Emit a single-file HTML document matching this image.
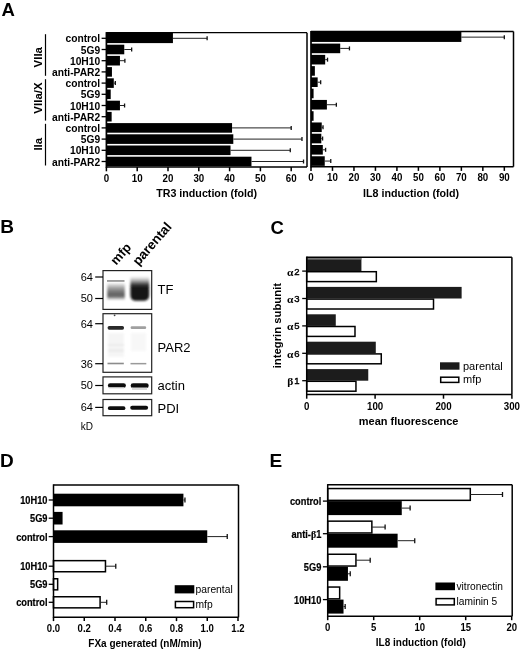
<!DOCTYPE html>
<html><head><meta charset="utf-8"><style>
html,body{margin:0;padding:0;background:#fff;}
body{width:520px;height:649px;overflow:hidden;}
svg{display:block;will-change:transform;}
</style></head><body>
<svg width="520" height="649" viewBox="0 0 520 649">
<rect width="520" height="649" fill="#fff"/>
<text x="1.50" y="16.20" font-family='"Liberation Sans", sans-serif' font-size="18.5" font-weight="bold" text-anchor="start" fill="#000" >A</text>
<text x="0.20" y="232.70" font-family='"Liberation Sans", sans-serif' font-size="19" font-weight="bold" text-anchor="start" fill="#000" >B</text>
<text x="270.50" y="234.20" font-family='"Liberation Sans", sans-serif' font-size="18.5" font-weight="bold" text-anchor="start" fill="#000" >C</text>
<text x="0.00" y="466.50" font-family='"Liberation Sans", sans-serif' font-size="19" font-weight="bold" text-anchor="start" fill="#000" >D</text>
<text x="269.50" y="467.30" font-family='"Liberation Sans", sans-serif' font-size="19" font-weight="bold" text-anchor="start" fill="#000" >E</text>
<rect x="106.40" y="32.70" width="66.53" height="10.40" fill="#000"/>
<line x1="172.93" y1="38.30" x2="207.12" y2="38.30" stroke="#222" stroke-width="1.0"/>
<line x1="207.12" y1="36.30" x2="207.12" y2="40.30" stroke="#111" stroke-width="1.3"/>
<line x1="101.60" y1="38.30" x2="106.40" y2="38.30" stroke="#000" stroke-width="1.3"/>
<text x="100.20" y="42.30" font-family='"Liberation Sans", sans-serif' font-size="10.25" font-weight="bold" text-anchor="end" fill="#000" >control</text>
<rect x="106.40" y="44.70" width="17.86" height="9.60" fill="#000"/>
<line x1="124.26" y1="49.50" x2="131.66" y2="49.50" stroke="#222" stroke-width="1.0"/>
<line x1="131.66" y1="47.50" x2="131.66" y2="51.50" stroke="#111" stroke-width="1.3"/>
<line x1="101.60" y1="49.50" x2="106.40" y2="49.50" stroke="#000" stroke-width="1.3"/>
<text x="100.20" y="53.50" font-family='"Liberation Sans", sans-serif' font-size="10.25" font-weight="bold" text-anchor="end" fill="#000" >5G9</text>
<rect x="106.40" y="55.90" width="13.55" height="9.60" fill="#000"/>
<line x1="119.95" y1="60.70" x2="124.88" y2="60.70" stroke="#222" stroke-width="1.0"/>
<line x1="124.88" y1="58.70" x2="124.88" y2="62.70" stroke="#111" stroke-width="1.3"/>
<line x1="101.60" y1="60.70" x2="106.40" y2="60.70" stroke="#000" stroke-width="1.3"/>
<text x="100.20" y="64.70" font-family='"Liberation Sans", sans-serif' font-size="10.25" font-weight="bold" text-anchor="end" fill="#000" >10H10</text>
<rect x="106.40" y="67.10" width="5.54" height="9.60" fill="#000"/>
<line x1="101.60" y1="71.90" x2="106.40" y2="71.90" stroke="#000" stroke-width="1.3"/>
<text x="100.20" y="75.90" font-family='"Liberation Sans", sans-serif' font-size="10.25" font-weight="bold" text-anchor="end" fill="#000" >anti-PAR2</text>
<rect x="106.40" y="78.30" width="7.39" height="9.60" fill="#000"/>
<line x1="113.79" y1="83.10" x2="115.33" y2="83.10" stroke="#222" stroke-width="1.0"/>
<line x1="115.33" y1="81.10" x2="115.33" y2="85.10" stroke="#111" stroke-width="1.3"/>
<line x1="101.60" y1="83.10" x2="106.40" y2="83.10" stroke="#000" stroke-width="1.3"/>
<text x="100.20" y="87.10" font-family='"Liberation Sans", sans-serif' font-size="10.25" font-weight="bold" text-anchor="end" fill="#000" >control</text>
<rect x="106.40" y="89.50" width="4.31" height="9.60" fill="#000"/>
<line x1="101.60" y1="94.30" x2="106.40" y2="94.30" stroke="#000" stroke-width="1.3"/>
<text x="100.20" y="98.30" font-family='"Liberation Sans", sans-serif' font-size="10.25" font-weight="bold" text-anchor="end" fill="#000" >5G9</text>
<rect x="106.40" y="100.70" width="13.55" height="9.60" fill="#000"/>
<line x1="119.95" y1="105.50" x2="124.57" y2="105.50" stroke="#222" stroke-width="1.0"/>
<line x1="124.57" y1="103.50" x2="124.57" y2="107.50" stroke="#111" stroke-width="1.3"/>
<line x1="101.60" y1="105.50" x2="106.40" y2="105.50" stroke="#000" stroke-width="1.3"/>
<text x="100.20" y="109.50" font-family='"Liberation Sans", sans-serif' font-size="10.25" font-weight="bold" text-anchor="end" fill="#000" >10H10</text>
<rect x="106.40" y="111.90" width="5.24" height="9.60" fill="#000"/>
<line x1="101.60" y1="116.70" x2="106.40" y2="116.70" stroke="#000" stroke-width="1.3"/>
<text x="100.20" y="120.70" font-family='"Liberation Sans", sans-serif' font-size="10.25" font-weight="bold" text-anchor="end" fill="#000" >anti-PAR2</text>
<rect x="106.40" y="123.10" width="125.66" height="9.60" fill="#000"/>
<line x1="232.06" y1="127.90" x2="291.20" y2="127.90" stroke="#222" stroke-width="1.0"/>
<line x1="291.20" y1="125.90" x2="291.20" y2="129.90" stroke="#111" stroke-width="1.3"/>
<line x1="101.60" y1="127.90" x2="106.40" y2="127.90" stroke="#000" stroke-width="1.3"/>
<text x="100.20" y="131.90" font-family='"Liberation Sans", sans-serif' font-size="10.25" font-weight="bold" text-anchor="end" fill="#000" >control</text>
<rect x="106.40" y="134.30" width="126.90" height="9.60" fill="#000"/>
<line x1="233.30" y1="139.10" x2="301.98" y2="139.10" stroke="#222" stroke-width="1.0"/>
<line x1="301.98" y1="137.10" x2="301.98" y2="141.10" stroke="#111" stroke-width="1.3"/>
<line x1="101.60" y1="139.10" x2="106.40" y2="139.10" stroke="#000" stroke-width="1.3"/>
<text x="100.20" y="143.10" font-family='"Liberation Sans", sans-serif' font-size="10.25" font-weight="bold" text-anchor="end" fill="#000" >5G9</text>
<rect x="106.40" y="145.50" width="124.12" height="9.60" fill="#000"/>
<line x1="230.52" y1="150.30" x2="290.28" y2="150.30" stroke="#222" stroke-width="1.0"/>
<line x1="290.28" y1="148.30" x2="290.28" y2="152.30" stroke="#111" stroke-width="1.3"/>
<line x1="101.60" y1="150.30" x2="106.40" y2="150.30" stroke="#000" stroke-width="1.3"/>
<text x="100.20" y="154.30" font-family='"Liberation Sans", sans-serif' font-size="10.25" font-weight="bold" text-anchor="end" fill="#000" >10H10</text>
<rect x="106.40" y="156.70" width="145.07" height="9.60" fill="#000"/>
<line x1="251.47" y1="161.50" x2="303.52" y2="161.50" stroke="#222" stroke-width="1.0"/>
<line x1="303.52" y1="159.50" x2="303.52" y2="163.50" stroke="#111" stroke-width="1.3"/>
<line x1="101.60" y1="161.50" x2="106.40" y2="161.50" stroke="#000" stroke-width="1.3"/>
<text x="100.20" y="165.50" font-family='"Liberation Sans", sans-serif' font-size="10.25" font-weight="bold" text-anchor="end" fill="#000" >anti-PAR2</text>
<line x1="106.40" y1="32.70" x2="307.00" y2="32.70" stroke="#000" stroke-width="1.3"/>
<line x1="307.00" y1="32.70" x2="307.00" y2="167.10" stroke="#000" stroke-width="1.5"/>
<line x1="106.40" y1="167.10" x2="307.00" y2="167.10" stroke="#000" stroke-width="1.5"/>
<line x1="106.40" y1="32.10" x2="106.40" y2="167.80" stroke="#000" stroke-width="1.7"/>
<line x1="106.40" y1="167.10" x2="106.40" y2="171.30" stroke="#000" stroke-width="1.5"/>
<text transform="translate(106.40 181.60) scale(0.92 1)" font-family='"Liberation Sans", sans-serif' font-size="10.6" font-weight="bold" text-anchor="middle" fill="#000" >0</text>
<line x1="137.20" y1="167.10" x2="137.20" y2="171.30" stroke="#000" stroke-width="1.5"/>
<text transform="translate(137.20 181.60) scale(0.92 1)" font-family='"Liberation Sans", sans-serif' font-size="10.6" font-weight="bold" text-anchor="middle" fill="#000" >10</text>
<line x1="168.00" y1="167.10" x2="168.00" y2="171.30" stroke="#000" stroke-width="1.5"/>
<text transform="translate(168.00 181.60) scale(0.92 1)" font-family='"Liberation Sans", sans-serif' font-size="10.6" font-weight="bold" text-anchor="middle" fill="#000" >20</text>
<line x1="198.80" y1="167.10" x2="198.80" y2="171.30" stroke="#000" stroke-width="1.5"/>
<text transform="translate(198.80 181.60) scale(0.92 1)" font-family='"Liberation Sans", sans-serif' font-size="10.6" font-weight="bold" text-anchor="middle" fill="#000" >30</text>
<line x1="229.60" y1="167.10" x2="229.60" y2="171.30" stroke="#000" stroke-width="1.5"/>
<text transform="translate(229.60 181.60) scale(0.92 1)" font-family='"Liberation Sans", sans-serif' font-size="10.6" font-weight="bold" text-anchor="middle" fill="#000" >40</text>
<line x1="260.40" y1="167.10" x2="260.40" y2="171.30" stroke="#000" stroke-width="1.5"/>
<text transform="translate(260.40 181.60) scale(0.92 1)" font-family='"Liberation Sans", sans-serif' font-size="10.6" font-weight="bold" text-anchor="middle" fill="#000" >50</text>
<line x1="291.20" y1="167.10" x2="291.20" y2="171.30" stroke="#000" stroke-width="1.5"/>
<text transform="translate(291.20 181.60) scale(0.92 1)" font-family='"Liberation Sans", sans-serif' font-size="10.6" font-weight="bold" text-anchor="middle" fill="#000" >60</text>
<text x="156.20" y="196.80" font-family='"Liberation Sans", sans-serif' font-size="10.7" font-weight="bold" text-anchor="start" fill="#000" >TR3 induction (fold)</text>
<rect x="311.00" y="31.50" width="150.36" height="10.43" fill="#000"/>
<line x1="461.36" y1="37.13" x2="504.32" y2="37.13" stroke="#222" stroke-width="1.0"/>
<line x1="504.32" y1="35.13" x2="504.32" y2="39.13" stroke="#111" stroke-width="1.3"/>
<rect x="311.00" y="43.60" width="29.21" height="9.60" fill="#000"/>
<line x1="340.21" y1="48.40" x2="349.45" y2="48.40" stroke="#222" stroke-width="1.0"/>
<line x1="349.45" y1="46.40" x2="349.45" y2="50.40" stroke="#111" stroke-width="1.3"/>
<rect x="311.00" y="54.87" width="14.18" height="9.60" fill="#000"/>
<line x1="325.18" y1="59.67" x2="327.54" y2="59.67" stroke="#222" stroke-width="1.0"/>
<line x1="327.54" y1="57.67" x2="327.54" y2="61.67" stroke="#111" stroke-width="1.3"/>
<rect x="311.00" y="66.13" width="3.87" height="9.60" fill="#000"/>
<rect x="311.00" y="77.40" width="6.66" height="9.60" fill="#000"/>
<line x1="317.66" y1="82.20" x2="320.67" y2="82.20" stroke="#222" stroke-width="1.0"/>
<line x1="320.67" y1="80.20" x2="320.67" y2="84.20" stroke="#111" stroke-width="1.3"/>
<rect x="311.00" y="88.67" width="2.58" height="9.60" fill="#000"/>
<rect x="311.00" y="99.93" width="15.90" height="9.60" fill="#000"/>
<line x1="326.90" y1="104.73" x2="336.35" y2="104.73" stroke="#222" stroke-width="1.0"/>
<line x1="336.35" y1="102.73" x2="336.35" y2="106.73" stroke="#111" stroke-width="1.3"/>
<rect x="311.00" y="111.20" width="2.58" height="9.60" fill="#000"/>
<rect x="311.00" y="122.47" width="10.74" height="9.60" fill="#000"/>
<line x1="321.74" y1="127.27" x2="323.03" y2="127.27" stroke="#222" stroke-width="1.0"/>
<line x1="323.03" y1="125.27" x2="323.03" y2="129.27" stroke="#111" stroke-width="1.3"/>
<rect x="311.00" y="133.73" width="10.31" height="9.60" fill="#000"/>
<line x1="321.31" y1="138.53" x2="322.60" y2="138.53" stroke="#222" stroke-width="1.0"/>
<line x1="322.60" y1="136.53" x2="322.60" y2="140.53" stroke="#111" stroke-width="1.3"/>
<rect x="311.00" y="145.00" width="11.81" height="9.60" fill="#000"/>
<line x1="322.81" y1="149.80" x2="325.61" y2="149.80" stroke="#222" stroke-width="1.0"/>
<line x1="325.61" y1="147.80" x2="325.61" y2="151.80" stroke="#111" stroke-width="1.3"/>
<rect x="311.00" y="156.27" width="13.75" height="9.60" fill="#000"/>
<line x1="324.75" y1="161.07" x2="330.76" y2="161.07" stroke="#222" stroke-width="1.0"/>
<line x1="330.76" y1="159.07" x2="330.76" y2="163.07" stroke="#111" stroke-width="1.3"/>
<line x1="311.00" y1="31.50" x2="513.50" y2="31.50" stroke="#000" stroke-width="1.3"/>
<line x1="513.50" y1="31.50" x2="513.50" y2="166.70" stroke="#000" stroke-width="1.5"/>
<line x1="311.00" y1="166.70" x2="513.50" y2="166.70" stroke="#000" stroke-width="1.5"/>
<line x1="311.00" y1="30.90" x2="311.00" y2="167.40" stroke="#000" stroke-width="1.7"/>
<line x1="311.00" y1="166.70" x2="311.00" y2="170.90" stroke="#000" stroke-width="1.5"/>
<text transform="translate(311.00 181.20) scale(0.92 1)" font-family='"Liberation Sans", sans-serif' font-size="10.6" font-weight="bold" text-anchor="middle" fill="#000" >0</text>
<line x1="332.48" y1="166.70" x2="332.48" y2="170.90" stroke="#000" stroke-width="1.5"/>
<text transform="translate(332.48 181.20) scale(0.92 1)" font-family='"Liberation Sans", sans-serif' font-size="10.6" font-weight="bold" text-anchor="middle" fill="#000" >10</text>
<line x1="353.96" y1="166.70" x2="353.96" y2="170.90" stroke="#000" stroke-width="1.5"/>
<text transform="translate(353.96 181.20) scale(0.92 1)" font-family='"Liberation Sans", sans-serif' font-size="10.6" font-weight="bold" text-anchor="middle" fill="#000" >20</text>
<line x1="375.44" y1="166.70" x2="375.44" y2="170.90" stroke="#000" stroke-width="1.5"/>
<text transform="translate(375.44 181.20) scale(0.92 1)" font-family='"Liberation Sans", sans-serif' font-size="10.6" font-weight="bold" text-anchor="middle" fill="#000" >30</text>
<line x1="396.92" y1="166.70" x2="396.92" y2="170.90" stroke="#000" stroke-width="1.5"/>
<text transform="translate(396.92 181.20) scale(0.92 1)" font-family='"Liberation Sans", sans-serif' font-size="10.6" font-weight="bold" text-anchor="middle" fill="#000" >40</text>
<line x1="418.40" y1="166.70" x2="418.40" y2="170.90" stroke="#000" stroke-width="1.5"/>
<text transform="translate(418.40 181.20) scale(0.92 1)" font-family='"Liberation Sans", sans-serif' font-size="10.6" font-weight="bold" text-anchor="middle" fill="#000" >50</text>
<line x1="439.88" y1="166.70" x2="439.88" y2="170.90" stroke="#000" stroke-width="1.5"/>
<text transform="translate(439.88 181.20) scale(0.92 1)" font-family='"Liberation Sans", sans-serif' font-size="10.6" font-weight="bold" text-anchor="middle" fill="#000" >60</text>
<line x1="461.36" y1="166.70" x2="461.36" y2="170.90" stroke="#000" stroke-width="1.5"/>
<text transform="translate(461.36 181.20) scale(0.92 1)" font-family='"Liberation Sans", sans-serif' font-size="10.6" font-weight="bold" text-anchor="middle" fill="#000" >70</text>
<line x1="482.84" y1="166.70" x2="482.84" y2="170.90" stroke="#000" stroke-width="1.5"/>
<text transform="translate(482.84 181.20) scale(0.92 1)" font-family='"Liberation Sans", sans-serif' font-size="10.6" font-weight="bold" text-anchor="middle" fill="#000" >80</text>
<line x1="504.32" y1="166.70" x2="504.32" y2="170.90" stroke="#000" stroke-width="1.5"/>
<text transform="translate(504.32 181.20) scale(0.92 1)" font-family='"Liberation Sans", sans-serif' font-size="10.6" font-weight="bold" text-anchor="middle" fill="#000" >90</text>
<text x="363.00" y="196.60" font-family='"Liberation Sans", sans-serif' font-size="10.7" font-weight="bold" text-anchor="start" fill="#000" >IL8 induction (fold)</text>
<line x1="45.50" y1="34.20" x2="45.50" y2="75.80" stroke="#000" stroke-width="1.2"/>
<line x1="45.50" y1="79.20" x2="45.50" y2="120.60" stroke="#000" stroke-width="1.2"/>
<line x1="45.50" y1="123.80" x2="45.50" y2="165.50" stroke="#000" stroke-width="1.2"/>
<text x="42.20" y="57.20" font-family='"Liberation Sans", sans-serif' font-size="11.5" font-weight="bold" text-anchor="middle" fill="#000" transform="rotate(-90 42.2 57.2)">VIIa</text>
<text x="42.20" y="98.00" font-family='"Liberation Sans", sans-serif' font-size="11.5" font-weight="bold" text-anchor="middle" fill="#000" transform="rotate(-90 42.2 98)">VIIa/X</text>
<text x="42.20" y="144.20" font-family='"Liberation Sans", sans-serif' font-size="11.5" font-weight="bold" text-anchor="middle" fill="#000" transform="rotate(-90 42.2 144.2)">IIa</text>
<defs><filter id="bl1" x="-50%" y="-50%" width="200%" height="200%"><feGaussianBlur stdDeviation="1.2"/></filter><filter id="bl2" x="-50%" y="-50%" width="200%" height="200%"><feGaussianBlur stdDeviation="2.2"/></filter><filter id="bl08" x="-50%" y="-50%" width="200%" height="200%"><feGaussianBlur stdDeviation="0.9"/></filter><filter id="bl05" x="-50%" y="-50%" width="200%" height="200%"><feGaussianBlur stdDeviation="0.7"/></filter></defs>
<defs><linearGradient id="gm" x1="0" y1="0" x2="0" y2="1"><stop offset="0" stop-color="#f4f4f4"/><stop offset="0.13" stop-color="#cdcdcd"/><stop offset="0.3" stop-color="#a0a0a0"/><stop offset="0.48" stop-color="#7c7c7c"/><stop offset="0.66" stop-color="#626262"/><stop offset="0.8" stop-color="#6c6c6c"/><stop offset="0.9" stop-color="#aaaaaa"/><stop offset="1" stop-color="#f4f4f4"/></linearGradient><linearGradient id="gp" x1="0" y1="0" x2="0" y2="1"><stop offset="0" stop-color="#f8f8f8"/><stop offset="0.1" stop-color="#d4d4d4"/><stop offset="0.22" stop-color="#8a8a8a"/><stop offset="0.34" stop-color="#333"/><stop offset="0.46" stop-color="#1a1a1a"/><stop offset="1" stop-color="#151515"/></linearGradient></defs>
<g filter="url(#bl08)"><rect x="107.2" y="283" width="17.6" height="17" fill="url(#gm)"/></g><g filter="url(#bl05)"><rect x="107" y="280.2" width="17.5" height="1.5" fill="#858585"/></g>
<g filter="url(#bl08)"><path d="M130.4,276.5 H149.2 V295 Q149.2,300.8 143.5,300.8 H136 Q130.4,300.8 130.4,295 Z" fill="url(#gp)"/></g>
<g filter="url(#bl05)"><rect x="107.6" y="325.9" width="16.4" height="3.8" rx="1.6" fill="#2a2a2a"/><rect x="130.6" y="326.3" width="15.6" height="2.8" rx="1.3" fill="#a0a0a0"/><rect x="107.5" y="362.7" width="16.3" height="1.6" fill="#8c8c8c"/><rect x="130.5" y="362.9" width="15.8" height="1.5" fill="#9a9a9a"/><circle cx="114.6" cy="315.3" r="0.9" fill="#444"/></g>
<g filter="url(#bl1)" opacity="0.6"><rect x="108" y="333" width="16" height="24" fill="#f0f0f0"/><rect x="108" y="344" width="16" height="2" fill="#dcdcdc"/><rect x="108" y="349.5" width="16" height="2" fill="#d8d8d8"/><rect x="131" y="333" width="15" height="18" fill="#f2f2f2"/></g>
<g filter="url(#bl05)"><rect x="107.9" y="383.3" width="18" height="4.4" rx="2.2" fill="#111"/><rect x="130.7" y="383.3" width="18" height="4.7" rx="2.3" fill="#111"/><rect x="132" y="387.5" width="15" height="2.5" fill="#dadada"/><rect x="109" y="387.3" width="15" height="1.5" fill="#e8e8e8"/></g>
<g filter="url(#bl05)"><rect x="107.9" y="406.2" width="17.5" height="3.9" rx="1.9" fill="#111"/><rect x="130.2" y="405.7" width="17.9" height="4.1" rx="2" fill="#111"/></g>
<rect x="103" y="270.6" width="48.70" height="38.80" fill="none" stroke="#222" stroke-width="1.2"/>
<rect x="103" y="313.7" width="48.70" height="58.60" fill="none" stroke="#222" stroke-width="1.2"/>
<rect x="103" y="376.9" width="48.70" height="16.90" fill="none" stroke="#222" stroke-width="1.2"/>
<rect x="103" y="399.5" width="48.70" height="16.20" fill="none" stroke="#222" stroke-width="1.2"/>
<line x1="95.20" y1="277.00" x2="103.00" y2="277.00" stroke="#000" stroke-width="1.2"/>
<text x="93.00" y="280.90" font-family='"Liberation Sans", sans-serif' font-size="11" font-weight="normal" text-anchor="end" fill="#000" >64</text>
<line x1="95.20" y1="298.50" x2="103.00" y2="298.50" stroke="#000" stroke-width="1.2"/>
<text x="93.00" y="302.40" font-family='"Liberation Sans", sans-serif' font-size="11" font-weight="normal" text-anchor="end" fill="#000" >50</text>
<line x1="95.20" y1="323.70" x2="103.00" y2="323.70" stroke="#000" stroke-width="1.2"/>
<text x="93.00" y="327.60" font-family='"Liberation Sans", sans-serif' font-size="11" font-weight="normal" text-anchor="end" fill="#000" >64</text>
<line x1="95.20" y1="363.70" x2="103.00" y2="363.70" stroke="#000" stroke-width="1.2"/>
<text x="93.00" y="367.60" font-family='"Liberation Sans", sans-serif' font-size="11" font-weight="normal" text-anchor="end" fill="#000" >36</text>
<line x1="95.20" y1="385.50" x2="103.00" y2="385.50" stroke="#000" stroke-width="1.2"/>
<text x="93.00" y="389.40" font-family='"Liberation Sans", sans-serif' font-size="11" font-weight="normal" text-anchor="end" fill="#000" >50</text>
<line x1="95.20" y1="407.40" x2="103.00" y2="407.40" stroke="#000" stroke-width="1.2"/>
<text x="93.00" y="411.30" font-family='"Liberation Sans", sans-serif' font-size="11" font-weight="normal" text-anchor="end" fill="#000" >64</text>
<text x="80.80" y="429.50" font-family='"Liberation Sans", sans-serif' font-size="10" font-weight="normal" text-anchor="start" fill="#000" >kD</text>
<text x="157.50" y="293.80" font-family='"Liberation Sans", sans-serif' font-size="13" font-weight="normal" text-anchor="start" fill="#000" >TF</text>
<text x="157.50" y="351.80" font-family='"Liberation Sans", sans-serif' font-size="13" font-weight="normal" text-anchor="start" fill="#000" >PAR2</text>
<text x="157.50" y="390.00" font-family='"Liberation Sans", sans-serif' font-size="13" font-weight="normal" text-anchor="start" fill="#000" >actin</text>
<text x="157.50" y="413.20" font-family='"Liberation Sans", sans-serif' font-size="13" font-weight="normal" text-anchor="start" fill="#000" >PDI</text>
<text x="116.30" y="265.80" font-family='"Liberation Sans", sans-serif' font-size="13" font-weight="bold" text-anchor="start" fill="#000" transform="rotate(-49 116.3 265.8)">mfp</text>
<text x="138.40" y="266.30" font-family='"Liberation Sans", sans-serif' font-size="13.3" font-weight="bold" text-anchor="start" fill="#000" transform="rotate(-49 138.4 266.3)">parental</text>
<rect x="306.70" y="257.80" width="54.72" height="13.30" fill="#1c1c1c"/>
<rect x="306.70" y="271.70" width="69.63" height="9.90" fill="#fff" stroke="#000" stroke-width="1.5"/>
<line x1="302.20" y1="271.10" x2="306.70" y2="271.10" stroke="#000" stroke-width="1.3"/>
<text transform="translate(293.4 275.50) scale(1.15 1)" font-family='"Liberation Serif", serif' font-size="10" font-weight="bold" text-anchor="end" fill="#000">&#945;</text>
<text x="299.60" y="274.60" font-family='"Liberation Sans", sans-serif' font-size="9.5" font-weight="normal" text-anchor="end" fill="#000" stroke="#000" stroke-width="0.4">2</text>
<rect x="306.70" y="286.90" width="154.93" height="11.60" fill="#1c1c1c"/>
<rect x="306.70" y="299.10" width="126.81" height="9.90" fill="#fff" stroke="#000" stroke-width="1.5"/>
<line x1="302.20" y1="298.50" x2="306.70" y2="298.50" stroke="#000" stroke-width="1.3"/>
<text transform="translate(293.4 302.90) scale(1.15 1)" font-family='"Liberation Serif", serif' font-size="10" font-weight="bold" text-anchor="end" fill="#000">&#945;</text>
<text x="299.60" y="302.00" font-family='"Liberation Sans", sans-serif' font-size="9.5" font-weight="normal" text-anchor="end" fill="#000" stroke="#000" stroke-width="0.4">3</text>
<rect x="306.70" y="314.30" width="29.07" height="11.60" fill="#1c1c1c"/>
<rect x="306.70" y="326.50" width="48.29" height="9.90" fill="#fff" stroke="#000" stroke-width="1.5"/>
<line x1="302.20" y1="325.90" x2="306.70" y2="325.90" stroke="#000" stroke-width="1.3"/>
<text transform="translate(293.4 330.30) scale(1.15 1)" font-family='"Liberation Serif", serif' font-size="10" font-weight="bold" text-anchor="end" fill="#000">&#945;</text>
<text x="299.60" y="329.40" font-family='"Liberation Sans", sans-serif' font-size="9.5" font-weight="normal" text-anchor="end" fill="#000" stroke="#000" stroke-width="0.4">5</text>
<rect x="306.70" y="341.70" width="69.08" height="11.60" fill="#1c1c1c"/>
<rect x="306.70" y="353.90" width="74.56" height="9.90" fill="#fff" stroke="#000" stroke-width="1.5"/>
<line x1="302.20" y1="353.30" x2="306.70" y2="353.30" stroke="#000" stroke-width="1.3"/>
<text transform="translate(293.4 357.70) scale(1.15 1)" font-family='"Liberation Serif", serif' font-size="10" font-weight="bold" text-anchor="end" fill="#000">&#945;</text>
<text x="299.60" y="356.80" font-family='"Liberation Sans", sans-serif' font-size="9.5" font-weight="normal" text-anchor="end" fill="#000" stroke="#000" stroke-width="0.4">6</text>
<rect x="306.70" y="369.10" width="61.56" height="11.60" fill="#1c1c1c"/>
<rect x="306.70" y="381.30" width="49.25" height="9.90" fill="#fff" stroke="#000" stroke-width="1.5"/>
<line x1="302.20" y1="380.70" x2="306.70" y2="380.70" stroke="#000" stroke-width="1.3"/>
<text transform="translate(293.4 385.10) scale(1.15 1)" font-family='"Liberation Serif", serif' font-size="10" font-weight="bold" text-anchor="end" fill="#000">&#946;</text>
<text x="299.60" y="384.20" font-family='"Liberation Sans", sans-serif' font-size="9.5" font-weight="normal" text-anchor="end" fill="#000" stroke="#000" stroke-width="0.4">1</text>
<line x1="307.50" y1="258.90" x2="361.42" y2="258.90" stroke="#8e8e8e" stroke-width="1.2"/>
<line x1="306.70" y1="257.20" x2="511.90" y2="257.20" stroke="#000" stroke-width="1.5"/>
<line x1="511.90" y1="257.20" x2="511.90" y2="394.40" stroke="#000" stroke-width="1.5"/>
<line x1="306.70" y1="394.40" x2="511.90" y2="394.40" stroke="#000" stroke-width="1.5"/>
<line x1="306.70" y1="256.50" x2="306.70" y2="395.10" stroke="#000" stroke-width="1.5"/>
<line x1="306.70" y1="394.40" x2="306.70" y2="398.70" stroke="#000" stroke-width="1.5"/>
<text transform="translate(306.70 409.80) scale(0.92 1)" font-family='"Liberation Sans", sans-serif' font-size="10.6" font-weight="bold" text-anchor="middle" fill="#000" >0</text>
<line x1="375.10" y1="394.40" x2="375.10" y2="398.70" stroke="#000" stroke-width="1.5"/>
<text transform="translate(375.10 409.80) scale(0.92 1)" font-family='"Liberation Sans", sans-serif' font-size="10.6" font-weight="bold" text-anchor="middle" fill="#000" >100</text>
<line x1="443.50" y1="394.40" x2="443.50" y2="398.70" stroke="#000" stroke-width="1.5"/>
<text transform="translate(443.50 409.80) scale(0.92 1)" font-family='"Liberation Sans", sans-serif' font-size="10.6" font-weight="bold" text-anchor="middle" fill="#000" >200</text>
<line x1="511.90" y1="394.40" x2="511.90" y2="398.70" stroke="#000" stroke-width="1.5"/>
<text transform="translate(511.90 409.80) scale(0.92 1)" font-family='"Liberation Sans", sans-serif' font-size="10.6" font-weight="bold" text-anchor="middle" fill="#000" >300</text>
<text x="358.80" y="424.80" font-family='"Liberation Sans", sans-serif' font-size="11" font-weight="bold" text-anchor="start" fill="#000" >mean fluorescence</text>
<text x="281.30" y="325.60" font-family='"Liberation Sans", sans-serif' font-size="11.3" font-weight="bold" text-anchor="middle" fill="#000" transform="rotate(-90 281.3 325.6)">integrin subunit</text>
<rect x="440.00" y="362.30" width="19.50" height="7.40" fill="#1c1c1c"/>
<rect x="440.70" y="377.20" width="18.10" height="5.20" fill="#fff" stroke="#000" stroke-width="1.5"/>
<text x="463.00" y="370.00" font-family='"Liberation Sans", sans-serif' font-size="11" font-weight="normal" text-anchor="start" fill="#000" >parental</text>
<text x="463.00" y="383.00" font-family='"Liberation Sans", sans-serif' font-size="11" font-weight="normal" text-anchor="start" fill="#000" >mfp</text>
<rect x="53.50" y="493.70" width="129.92" height="12.60" fill="#000"/>
<line x1="183.42" y1="500.00" x2="184.96" y2="500.00" stroke="#222" stroke-width="1.0"/>
<line x1="184.96" y1="497.50" x2="184.96" y2="502.50" stroke="#111" stroke-width="1.3"/>
<line x1="48.70" y1="500.00" x2="53.50" y2="500.00" stroke="#000" stroke-width="1.3"/>
<text transform="translate(47.50 503.90) scale(0.9 1)" font-family='"Liberation Sans", sans-serif' font-size="10.3" font-weight="bold" text-anchor="end" fill="#000" stroke="#000" stroke-width="0.2">10H10</text>
<rect x="53.50" y="511.90" width="9.07" height="12.60" fill="#000"/>
<line x1="48.70" y1="518.20" x2="53.50" y2="518.20" stroke="#000" stroke-width="1.3"/>
<text transform="translate(47.50 522.10) scale(0.9 1)" font-family='"Liberation Sans", sans-serif' font-size="10.3" font-weight="bold" text-anchor="end" fill="#000" stroke="#000" stroke-width="0.2">5G9</text>
<rect x="53.50" y="530.30" width="153.75" height="12.60" fill="#000"/>
<line x1="207.25" y1="536.60" x2="227.24" y2="536.60" stroke="#222" stroke-width="1.0"/>
<line x1="227.24" y1="534.10" x2="227.24" y2="539.10" stroke="#111" stroke-width="1.3"/>
<line x1="48.70" y1="536.60" x2="53.50" y2="536.60" stroke="#000" stroke-width="1.3"/>
<text transform="translate(47.50 540.50) scale(0.9 1)" font-family='"Liberation Sans", sans-serif' font-size="10.3" font-weight="bold" text-anchor="end" fill="#000" stroke="#000" stroke-width="0.2">control</text>
<rect x="53.50" y="560.65" width="51.97" height="11.10" fill="#fff" stroke="#000" stroke-width="1.5"/>
<line x1="105.47" y1="566.20" x2="115.77" y2="566.20" stroke="#222" stroke-width="1.0"/>
<line x1="115.77" y1="563.70" x2="115.77" y2="568.70" stroke="#111" stroke-width="1.3"/>
<line x1="48.70" y1="566.20" x2="53.50" y2="566.20" stroke="#000" stroke-width="1.3"/>
<text transform="translate(47.50 570.10) scale(0.9 1)" font-family='"Liberation Sans", sans-serif' font-size="10.3" font-weight="bold" text-anchor="end" fill="#000" stroke="#000" stroke-width="0.2">10H10</text>
<rect x="53.50" y="578.75" width="4.15" height="11.10" fill="#fff" stroke="#000" stroke-width="1.5"/>
<line x1="48.70" y1="584.30" x2="53.50" y2="584.30" stroke="#000" stroke-width="1.3"/>
<text transform="translate(47.50 588.20) scale(0.9 1)" font-family='"Liberation Sans", sans-serif' font-size="10.3" font-weight="bold" text-anchor="end" fill="#000" stroke="#000" stroke-width="0.2">5G9</text>
<rect x="53.50" y="596.75" width="46.59" height="11.10" fill="#fff" stroke="#000" stroke-width="1.5"/>
<line x1="100.09" y1="602.30" x2="106.70" y2="602.30" stroke="#222" stroke-width="1.0"/>
<line x1="106.70" y1="599.80" x2="106.70" y2="604.80" stroke="#111" stroke-width="1.3"/>
<line x1="48.70" y1="602.30" x2="53.50" y2="602.30" stroke="#000" stroke-width="1.3"/>
<text transform="translate(47.50 606.20) scale(0.9 1)" font-family='"Liberation Sans", sans-serif' font-size="10.3" font-weight="bold" text-anchor="end" fill="#000" stroke="#000" stroke-width="0.2">control</text>
<line x1="53.50" y1="485.00" x2="238.50" y2="485.00" stroke="#000" stroke-width="1.5"/>
<line x1="238.50" y1="485.00" x2="238.50" y2="617.30" stroke="#000" stroke-width="1.5"/>
<line x1="53.50" y1="617.30" x2="238.50" y2="617.30" stroke="#000" stroke-width="1.5"/>
<line x1="53.50" y1="484.30" x2="53.50" y2="618.00" stroke="#000" stroke-width="1.5"/>
<line x1="53.50" y1="617.30" x2="53.50" y2="621.10" stroke="#000" stroke-width="1.5"/>
<text transform="translate(53.50 631.70) scale(0.92 1)" font-family='"Liberation Sans", sans-serif' font-size="10.4" font-weight="bold" text-anchor="middle" fill="#000" >0.0</text>
<line x1="84.25" y1="617.30" x2="84.25" y2="621.10" stroke="#000" stroke-width="1.5"/>
<text transform="translate(84.25 631.70) scale(0.92 1)" font-family='"Liberation Sans", sans-serif' font-size="10.4" font-weight="bold" text-anchor="middle" fill="#000" >0.2</text>
<line x1="115.00" y1="617.30" x2="115.00" y2="621.10" stroke="#000" stroke-width="1.5"/>
<text transform="translate(115.00 631.70) scale(0.92 1)" font-family='"Liberation Sans", sans-serif' font-size="10.4" font-weight="bold" text-anchor="middle" fill="#000" >0.4</text>
<line x1="145.75" y1="617.30" x2="145.75" y2="621.10" stroke="#000" stroke-width="1.5"/>
<text transform="translate(145.75 631.70) scale(0.92 1)" font-family='"Liberation Sans", sans-serif' font-size="10.4" font-weight="bold" text-anchor="middle" fill="#000" >0.6</text>
<line x1="176.50" y1="617.30" x2="176.50" y2="621.10" stroke="#000" stroke-width="1.5"/>
<text transform="translate(176.50 631.70) scale(0.92 1)" font-family='"Liberation Sans", sans-serif' font-size="10.4" font-weight="bold" text-anchor="middle" fill="#000" >0.8</text>
<line x1="207.25" y1="617.30" x2="207.25" y2="621.10" stroke="#000" stroke-width="1.5"/>
<text transform="translate(207.25 631.70) scale(0.92 1)" font-family='"Liberation Sans", sans-serif' font-size="10.4" font-weight="bold" text-anchor="middle" fill="#000" >1.0</text>
<line x1="238.00" y1="617.30" x2="238.00" y2="621.10" stroke="#000" stroke-width="1.5"/>
<text transform="translate(238.00 631.70) scale(0.92 1)" font-family='"Liberation Sans", sans-serif' font-size="10.4" font-weight="bold" text-anchor="middle" fill="#000" >1.2</text>
<text x="88.30" y="646.50" font-family='"Liberation Sans", sans-serif' font-size="10" font-weight="bold" text-anchor="start" fill="#000" >FXa generated (nM/min)</text>
<rect x="174.70" y="585.20" width="19.60" height="8.20" fill="#000"/>
<rect x="175.40" y="601.50" width="18.20" height="6.20" fill="#fff" stroke="#000" stroke-width="1.5"/>
<text x="195.50" y="592.80" font-family='"Liberation Sans", sans-serif' font-size="10.3" font-weight="normal" text-anchor="start" fill="#000" >parental</text>
<text x="195.50" y="607.70" font-family='"Liberation Sans", sans-serif' font-size="10.3" font-weight="normal" text-anchor="start" fill="#000" >mfp</text>
<rect x="327.70" y="488.55" width="142.60" height="11.80" fill="#fff" stroke="#000" stroke-width="1.5"/>
<rect x="327.70" y="501.10" width="74.06" height="14.00" fill="#000"/>
<line x1="470.30" y1="494.50" x2="502.50" y2="494.50" stroke="#222" stroke-width="1.0"/>
<line x1="502.50" y1="492.00" x2="502.50" y2="497.00" stroke="#111" stroke-width="1.3"/>
<line x1="401.76" y1="508.10" x2="410.13" y2="508.10" stroke="#222" stroke-width="1.0"/>
<line x1="410.13" y1="505.60" x2="410.13" y2="510.60" stroke="#111" stroke-width="1.3"/>
<line x1="322.90" y1="501.10" x2="327.70" y2="501.10" stroke="#000" stroke-width="1.3"/>
<text transform="translate(321.30 505.20) scale(0.9 1)" font-family='"Liberation Sans", sans-serif' font-size="10.3" font-weight="bold" text-anchor="end" fill="#000" stroke="#000" stroke-width="0.2">control</text>
<rect x="327.70" y="521.15" width="44.16" height="11.80" fill="#fff" stroke="#000" stroke-width="1.5"/>
<rect x="327.70" y="533.70" width="69.92" height="14.00" fill="#000"/>
<line x1="371.86" y1="527.10" x2="385.11" y2="527.10" stroke="#222" stroke-width="1.0"/>
<line x1="385.11" y1="524.60" x2="385.11" y2="529.60" stroke="#111" stroke-width="1.3"/>
<line x1="397.62" y1="540.70" x2="414.73" y2="540.70" stroke="#222" stroke-width="1.0"/>
<line x1="414.73" y1="538.20" x2="414.73" y2="543.20" stroke="#111" stroke-width="1.3"/>
<line x1="322.90" y1="533.70" x2="327.70" y2="533.70" stroke="#000" stroke-width="1.3"/>
<text transform="translate(321.30 537.80) scale(0.9 1)" font-family='"Liberation Sans", sans-serif' font-size="10.3" font-weight="bold" text-anchor="end" fill="#000" stroke="#000" stroke-width="0.2">anti-<tspan font-family='"Liberation Serif", serif' font-size="11" font-weight="bold">&#946;</tspan>1</text>
<rect x="327.70" y="554.25" width="28.24" height="11.80" fill="#fff" stroke="#000" stroke-width="1.5"/>
<rect x="327.70" y="566.80" width="20.24" height="14.00" fill="#000"/>
<line x1="355.94" y1="560.20" x2="370.20" y2="560.20" stroke="#222" stroke-width="1.0"/>
<line x1="370.20" y1="557.70" x2="370.20" y2="562.70" stroke="#111" stroke-width="1.3"/>
<line x1="347.94" y1="573.80" x2="350.24" y2="573.80" stroke="#222" stroke-width="1.0"/>
<line x1="350.24" y1="571.30" x2="350.24" y2="576.30" stroke="#111" stroke-width="1.3"/>
<line x1="322.90" y1="566.80" x2="327.70" y2="566.80" stroke="#000" stroke-width="1.3"/>
<text transform="translate(321.30 570.90) scale(0.9 1)" font-family='"Liberation Sans", sans-serif' font-size="10.3" font-weight="bold" text-anchor="end" fill="#000" stroke="#000" stroke-width="0.2">5G9</text>
<rect x="327.70" y="587.05" width="11.96" height="11.80" fill="#fff" stroke="#000" stroke-width="1.5"/>
<rect x="327.70" y="599.60" width="15.82" height="14.00" fill="#000"/>
<line x1="343.52" y1="606.60" x2="345.18" y2="606.60" stroke="#222" stroke-width="1.0"/>
<line x1="345.18" y1="604.10" x2="345.18" y2="609.10" stroke="#111" stroke-width="1.3"/>
<line x1="322.90" y1="599.60" x2="327.70" y2="599.60" stroke="#000" stroke-width="1.3"/>
<text transform="translate(321.30 603.70) scale(0.9 1)" font-family='"Liberation Sans", sans-serif' font-size="10.3" font-weight="bold" text-anchor="end" fill="#000" stroke="#000" stroke-width="0.2">10H10</text>
<line x1="327.70" y1="484.80" x2="512.20" y2="484.80" stroke="#000" stroke-width="1.5"/>
<line x1="512.20" y1="484.80" x2="512.20" y2="616.20" stroke="#000" stroke-width="1.5"/>
<line x1="327.70" y1="616.20" x2="512.20" y2="616.20" stroke="#000" stroke-width="1.5"/>
<line x1="327.70" y1="484.10" x2="327.70" y2="616.90" stroke="#000" stroke-width="1.5"/>
<line x1="327.70" y1="616.20" x2="327.70" y2="620.20" stroke="#000" stroke-width="1.5"/>
<text transform="translate(327.70 630.50) scale(0.92 1)" font-family='"Liberation Sans", sans-serif' font-size="10.4" font-weight="bold" text-anchor="middle" fill="#000" >0</text>
<line x1="373.70" y1="616.20" x2="373.70" y2="620.20" stroke="#000" stroke-width="1.5"/>
<text transform="translate(373.70 630.50) scale(0.92 1)" font-family='"Liberation Sans", sans-serif' font-size="10.4" font-weight="bold" text-anchor="middle" fill="#000" >5</text>
<line x1="419.70" y1="616.20" x2="419.70" y2="620.20" stroke="#000" stroke-width="1.5"/>
<text transform="translate(419.70 630.50) scale(0.92 1)" font-family='"Liberation Sans", sans-serif' font-size="10.4" font-weight="bold" text-anchor="middle" fill="#000" >10</text>
<line x1="465.70" y1="616.20" x2="465.70" y2="620.20" stroke="#000" stroke-width="1.5"/>
<text transform="translate(465.70 630.50) scale(0.92 1)" font-family='"Liberation Sans", sans-serif' font-size="10.4" font-weight="bold" text-anchor="middle" fill="#000" >15</text>
<line x1="511.70" y1="616.20" x2="511.70" y2="620.20" stroke="#000" stroke-width="1.5"/>
<text transform="translate(511.70 630.50) scale(0.92 1)" font-family='"Liberation Sans", sans-serif' font-size="10.4" font-weight="bold" text-anchor="middle" fill="#000" >20</text>
<text x="375.80" y="645.80" font-family='"Liberation Sans", sans-serif' font-size="10" font-weight="bold" text-anchor="start" fill="#000" >IL8 induction (fold)</text>
<rect x="435.40" y="582.50" width="19.60" height="7.70" fill="#000"/>
<rect x="436.10" y="598.60" width="18.20" height="6.30" fill="#fff" stroke="#000" stroke-width="1.5"/>
<text x="456.50" y="589.80" font-family='"Liberation Sans", sans-serif' font-size="10.2" font-weight="normal" text-anchor="start" fill="#000" >vitronectin</text>
<text x="456.50" y="605.00" font-family='"Liberation Sans", sans-serif' font-size="10.2" font-weight="normal" text-anchor="start" fill="#000" >laminin 5</text>
</svg>
</body></html>
